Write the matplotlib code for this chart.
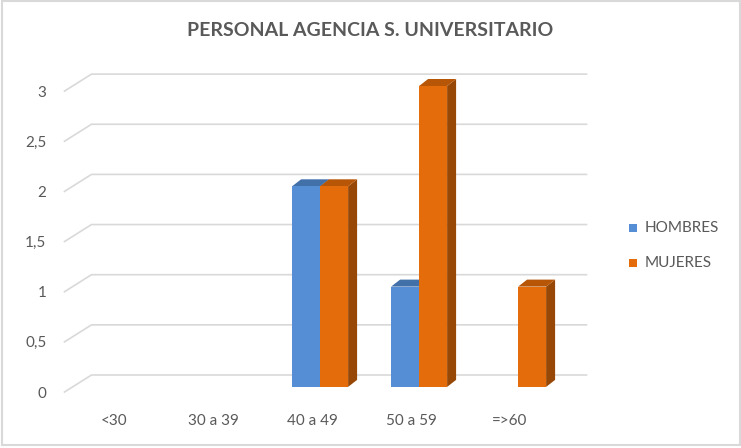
import matplotlib
matplotlib.use("Agg")
import matplotlib.pyplot as plt
from matplotlib.patches import Polygon, Rectangle
import numpy as np

categories = ["<30", "30 a 39", "40 a 49", "50 a 59", "=>60"]
hombres = [0, 0, 2, 1, 0]
mujeres = [0, 0, 2, 3, 1]
series_names = ["HOMBRES", "MUJERES"]
yticks = [0, 0.5, 1, 1.5, 2, 2.5, 3]
ytick_labels = ["0", "0,5", "1", "1,5", "2", "2,5", "3"]
title = "PERSONAL AGENCIA S. UNIVERSITARIO"

W, H = 741, 448
fig = plt.figure(figsize=(W / 100, H / 100), dpi=100)
FONT = "Lato"
GRAY = "#595959"
GRID = "#d9d9d9"

# front plane mapping: x=-0.5 at px 64.5, 99 px per category; y=0 at px 392 (from top), 100.3 px/unit
px_cat = 99.0
px_unit = 100.3
left_px = 64.5
zero_px_from_bottom = H - 392
ymax = 3.3
ax = fig.add_axes([left_px / W, zero_px_from_bottom / H, 5 * px_cat / W, ymax * px_unit / H])
ax.set_xlim(-0.5, 4.5)
ax.set_ylim(0, ymax)
for s in ax.spines.values():
    s.set_visible(False)
ax.set_facecolor("none")

# depth of floor (back plane offset)
DX = 27 / px_cat
DY = 17 / px_unit

# gridlines with diagonal at left
for v in yticks:
    ax.plot([-0.5, -0.5 + DX, 4.5 + DX], [v, v + DY, v + DY], color=GRID, lw=1.2,
            clip_on=False, zorder=1, solid_joinstyle="miter")

# bars
bw = 28 / px_cat
f0 = 0.3
bx0 = f0 * DX
by0 = f0 * DY
bdx = 9 / px_cat
bdy = 7 / px_unit

colors = {
    "HOMBRES": ("#558ed5", "#4271aa", "#3a6496"),
    "MUJERES": ("#e46c0a", "#b85608", "#974806"),
}

x = np.arange(len(categories))
for name, vals, off in [("HOMBRES", hombres, -bw), ("MUJERES", mujeres, 0.0)]:
    front, top, side = colors[name]
    for xi, v in zip(x, vals):
        if v <= 0:
            continue
        xl = xi + off + bx0
        xr = xl + bw
        yb = by0
        yt = by0 + v
        ax.add_patch(Polygon([[xr, yb], [xr + bdx, yb + bdy], [xr + bdx, yt + bdy], [xr, yt]],
                             closed=True, facecolor=side, edgecolor="none", clip_on=False, zorder=3))
        ax.add_patch(Polygon([[xl, yt], [xl + bdx, yt + bdy], [xr + bdx, yt + bdy], [xr, yt]],
                             closed=True, facecolor=top, edgecolor="none", clip_on=False, zorder=3))
        ax.add_patch(Rectangle((xl, yb), bw, v, facecolor=front, edgecolor="none",
                               clip_on=False, zorder=3))

ax.set_yticks(yticks)
ax.set_yticklabels(ytick_labels)
ax.set_xticks(x)
ax.set_xticklabels(categories)
ax.tick_params(axis="both", length=0, colors=GRAY, labelsize=11)
ax.tick_params(axis="y", pad=13)
ax.tick_params(axis="x", pad=16)
for lab in ax.get_xticklabels() + ax.get_yticklabels():
    lab.set_fontfamily(FONT)
    lab.set_color(GRAY)

fig.text(370 / W, 1 - 30 / H, title, ha="center", va="center", fontsize=14,
         fontweight="bold", color=GRAY, fontfamily=FONT)

# legend
for i, name in enumerate(series_names):
    yc = 228 + i * 35
    fig.patches.append(Rectangle((629 / W, 1 - (yc + 4) / H), 8 / W, 8 / H,
                                 transform=fig.transFigure, facecolor=colors[name][0],
                                 edgecolor="none"))
    fig.text(645 / W, 1 - yc / H, name, ha="left", va="center", fontsize=11,
             color=GRAY, fontfamily=FONT)

# figure border
fig.patches.append(Rectangle((1.5 / W, 3.5 / H), 738 / W, 443 / H, transform=fig.transFigure,
                             facecolor="none", edgecolor=GRID, lw=1.5))

fig.savefig("out.png", dpi=100)
